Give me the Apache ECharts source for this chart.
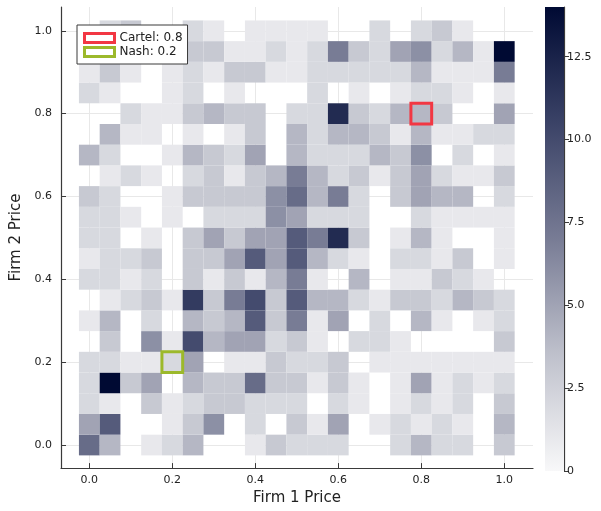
<!DOCTYPE html>
<html>
<head>
<meta charset="utf-8">
<script src="https://cdn.jsdelivr.net/npm/echarts@6/dist/echarts.min.js"></script>
<style>
  html, body { margin: 0; padding: 0; background: #ffffff; }
  #chart { width: 601px; height: 511px; }
</style>
</head>
<body>
<div id="chart"></div>
<script>
// Price grid: bin centres for both firms
const priceBins = [0.00, 0.05, 0.10, 0.15, 0.20, 0.25, 0.30, 0.35, 0.40, 0.45, 0.50,
                   0.55, 0.60, 0.65, 0.70, 0.75, 0.80, 0.85, 0.90, 0.95, 1.00];
const binWidth = 0.05;

// Visit counts: one row per Firm 2 price bin (bottom to top), columns follow Firm 1 bins
const counts = [
  [8, 4, 0, 1, 2, 4, 0, 0, 1, 3, 2, 2, 2, 0, 0, 2, 4, 2, 2, 0, 3],   // 0.00
  [5, 9, 0, 0, 1, 3, 6, 0, 2, 0, 3, 1, 5, 0, 1, 2, 1, 2, 1, 0, 4],   // 0.05
  [2, 1, 0, 3, 1, 2, 3, 3, 2, 2, 2, 0, 2, 1, 0, 1, 2, 1, 2, 0, 3],   // 0.10
  [2, 14, 3, 5, 0, 4, 3, 3, 8, 3, 3, 1, 3, 1, 0, 1, 5, 1, 2, 1, 2],  // 0.15
  [2, 2, 1, 1, 2, 5, 0, 1, 1, 3, 2, 2, 3, 0, 1, 1, 1, 1, 1, 1, 1],   // 0.20
  [0, 3, 0, 6, 1, 10, 4, 5, 5, 2, 3, 1, 0, 2, 2, 1, 0, 0, 0, 0, 3],  // 0.25
  [1, 4, 0, 2, 0, 4, 3, 4, 9, 3, 7, 1, 5, 0, 2, 0, 4, 1, 0, 1, 2],   // 0.30
  [0, 1, 2, 3, 1, 11, 3, 7, 10, 3, 9, 4, 4, 2, 1, 3, 3, 2, 4, 3, 2], // 0.35
  [2, 2, 1, 2, 0, 3, 1, 3, 1, 4, 7, 1, 0, 4, 0, 1, 1, 3, 2, 1, 0],   // 0.40
  [1, 2, 2, 3, 0, 3, 3, 5, 9, 5, 9, 4, 2, 1, 0, 2, 2, 1, 3, 0, 1],   // 0.45
  [2, 2, 0, 1, 0, 3, 5, 3, 5, 5, 9, 7, 12, 3, 0, 1, 4, 1, 0, 0, 1],  // 0.50
  [2, 2, 1, 0, 1, 0, 2, 2, 2, 6, 5, 2, 2, 2, 0, 0, 2, 1, 1, 1, 1],   // 0.55
  [3, 2, 0, 0, 1, 3, 3, 3, 3, 6, 8, 4, 7, 2, 0, 3, 5, 4, 4, 0, 2],   // 0.60
  [0, 1, 2, 1, 0, 2, 3, 1, 3, 4, 7, 4, 2, 3, 1, 3, 5, 2, 1, 1, 3],   // 0.65
  [4, 2, 0, 0, 1, 4, 3, 2, 5, 0, 4, 2, 2, 2, 4, 3, 6, 0, 2, 0, 1],   // 0.70
  [0, 4, 1, 1, 0, 1, 0, 1, 3, 0, 4, 2, 4, 4, 3, 1, 4, 1, 1, 2, 2],   // 0.75
  [0, 0, 2, 1, 1, 3, 4, 3, 3, 0, 2, 2, 12, 3, 2, 4, 4, 3, 0, 0, 5],  // 0.80
  [2, 1, 0, 0, 1, 2, 0, 1, 0, 0, 0, 2, 0, 1, 0, 1, 2, 2, 1, 0, 1],   // 0.85
  [1, 3, 1, 0, 1, 2, 1, 3, 3, 1, 1, 2, 2, 2, 2, 2, 4, 1, 1, 1, 7],   // 0.90
  [1, 0, 2, 0, 1, 3, 3, 1, 1, 2, 1, 2, 7, 3, 2, 5, 6, 2, 4, 1, 14],  // 0.95
  [0, 2, 3, 0, 0, 2, 1, 0, 1, 1, 1, 1, 0, 0, 2, 0, 2, 3, 1, 0, 0]    // 1.00
];

// Reference outcomes marked on the grid
const cartelPrice = 0.8;
const nashPrice = 0.2;

// Axis ticks
const priceTicks = [0.0, 0.2, 0.4, 0.6, 0.8, 1.0];
const colorTicks = [0, 2.5, 5.0, 7.5, 10.0, 12.5];
const colorMax = 14;

// Colour ramp, light (low) to dark (high)
const ramp = ['#f8f8f9', '#bfc1cc', '#787c95', '#3b4367', '#000a33'];
const CARTEL_RED = '#f23743';
const NASH_GREEN = '#9cb92b';

const FONT = 'DejaVu Sans';
const INK = '#222222';
const AXIS = '#3a3a3a';

const cells = [];
counts.forEach((row, j) => {
  row.forEach((c, i) => {
    if (c > 0) cells.push([priceBins[i], priceBins[j], c]);
  });
});

function cellRect(api, x, y) {
  const a = api.coord([x - binWidth / 2, y + binWidth / 2]);
  const b = api.coord([x + binWidth / 2, y - binWidth / 2]);
  return { x: a[0], y: a[1], width: b[0] - a[0], height: b[1] - a[1] };
}

const chart = echarts.init(document.getElementById('chart'), null, { renderer: 'canvas' });

const priceAxis = (name, min, max, gap, labelMargin) => ({
  type: 'value',
  min: min,
  max: max,
  name: name,
  nameLocation: 'middle',
  nameGap: gap,
  nameTextStyle: { fontFamily: FONT, fontSize: 15, color: INK },
  axisLine: { show: true, onZero: false, lineStyle: { color: AXIS, width: 1.2 } },
  axisTick: { show: true, inside: true, length: 5, customValues: priceTicks, lineStyle: { color: AXIS } },
  axisLabel: { customValues: priceTicks, formatter: v => v.toFixed(1), fontFamily: FONT, fontSize: 11, color: INK, margin: labelMargin },
  splitLine: { show: true, lineStyle: { color: '#e8e8e8', width: 1 } }
});

const option = {
  animation: false,
  backgroundColor: '#ffffff',
  grid: [
    { left: 61, right: 68, top: 7, bottom: 40, containLabel: false },
    { left: 545, width: 19, top: 7, bottom: 40, containLabel: false }
  ],
  xAxis: [
    priceAxis('Firm 1 Price', -0.0682, 1.0692, 22, 7),
    { gridIndex: 1, type: 'category', data: [''], show: false }
  ],
  yAxis: [
    Object.assign(priceAxis('Firm 2 Price', -0.0557, 1.0574, 36, 9), { nameRotate: 90 }),
    {
      gridIndex: 1, type: 'value', min: 0, max: colorMax, position: 'right',
      axisLine: { show: true, lineStyle: { color: AXIS, width: 1.2 } },
      axisTick: { show: true, inside: false, length: 5, customValues: colorTicks, lineStyle: { color: AXIS } },
      axisLabel: { customValues: colorTicks, formatter: v => (v === 0 ? '0' : v.toFixed(1)), fontFamily: FONT, fontSize: 11, color: INK, margin: 3 },
      splitLine: { show: false }
    }
  ],
  visualMap: {
    type: 'continuous', show: false, min: 0, max: colorMax, dimension: 2, seriesIndex: 0,
    inRange: { color: ramp }
  },
  legend: {
    orient: 'vertical', left: 77, top: 25,
    backgroundColor: '#ffffff', borderColor: AXIS, borderWidth: 1,
    padding: [6, 5, 5, 6], itemGap: 0, itemWidth: 30, itemHeight: 9,
    textStyle: { fontFamily: FONT, fontSize: 12, color: INK, lineHeight: 14 },
    data: [
      { name: 'Cartel: ' + cartelPrice, icon: 'rect', itemStyle: { color: 'rgba(0,0,0,0)', borderColor: CARTEL_RED, borderWidth: 3 } },
      { name: 'Nash: ' + nashPrice, icon: 'rect', itemStyle: { color: 'rgba(0,0,0,0)', borderColor: NASH_GREEN, borderWidth: 3 } }
    ]
  },
  series: [
    {
      type: 'custom', name: 'counts', xAxisIndex: 0, yAxisIndex: 0,
      encode: { x: 0, y: 1 },
      data: cells,
      renderItem: (params, api) => ({
        type: 'rect',
        shape: cellRect(api, api.value(0), api.value(1)),
        style: { fill: api.visual('color') }
      }),
      z: 2
    },
    {
      type: 'custom', name: 'Cartel: ' + cartelPrice, xAxisIndex: 0, yAxisIndex: 0,
      encode: { x: 0, y: 1 },
      data: [[cartelPrice, cartelPrice]],
      renderItem: (params, api) => ({
        type: 'rect',
        shape: cellRect(api, api.value(0), api.value(1)),
        style: { fill: 'none', stroke: CARTEL_RED, lineWidth: 3 }
      }),
      z: 3
    },
    {
      type: 'custom', name: 'Nash: ' + nashPrice, xAxisIndex: 0, yAxisIndex: 0,
      encode: { x: 0, y: 1 },
      data: [[nashPrice, nashPrice]],
      renderItem: (params, api) => ({
        type: 'rect',
        shape: cellRect(api, api.value(0), api.value(1)),
        style: { fill: 'none', stroke: NASH_GREEN, lineWidth: 3 }
      }),
      z: 3
    },
    {
      type: 'bar', name: 'colorbar', xAxisIndex: 1, yAxisIndex: 1,
      data: [colorMax], barWidth: '100%', silent: true,
      itemStyle: {
        color: new echarts.graphic.LinearGradient(0, 0, 0, 1,
          ramp.slice().reverse().map((c, k, arr) => ({ offset: k / (arr.length - 1), color: c })))
      }
    }
  ]
};

chart.setOption(option);
</script>
</body>
</html>
